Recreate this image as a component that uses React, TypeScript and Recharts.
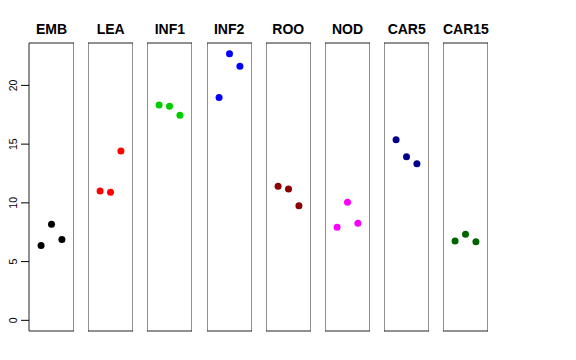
import React from "react";
import { ScatterChart, Scatter, XAxis, YAxis, ReferenceArea } from "recharts";

const categories = ["EMB", "LEA", "INF1", "INF2", "ROO", "NOD", "CAR5", "CAR15"];
const colors = ["#000000", "#FF0000", "#00CD00", "#0000FF", "#8B0000", "#FF00FF", "#00008B", "#006400"];
const replicates = [1, 2, 3];

const EMB = [6.38, 8.18, 6.88];
const LEA = [11.02, 10.91, 14.41];
const INF1 = [18.33, 18.22, 17.45];
const INF2 = [18.98, 22.7, 21.63];
const ROO = [11.42, 11.19, 9.75];
const NOD = [7.93, 10.06, 8.27];
const CAR5 = [15.37, 13.92, 13.32];
const CAR15 = [6.76, 7.33, 6.68];

const seriesValues = [EMB, LEA, INF1, INF2, ROO, NOD, CAR5, CAR15];
const yTicks = [0, 5, 10, 15, 20];

const Y_DOMAIN: [number, number] = [-0.908, 23.61];
const X_DOMAIN: [number, number] = [-0.16, 4.16];

const PANEL_LEFT = 29;
const PANEL_STEP = 59.2;
const PANEL_W = 45;
const TOP = 43;
const BOTTOM = 29;
const H = 360;

function YTick(props: any) {
  const { x, y, payload } = props;
  return (
    <text
      x={x}
      y={y}
      transform={`rotate(-90, ${x}, ${y})`}
      textAnchor="middle"
      fontSize={10.5}
      fill="#000"
      fontFamily="Liberation Sans, Arial, sans-serif"
    >
      {payload.value}
    </text>
  );
}

const Dot = (color: string) => (props: any) => (
  <circle cx={props.cx} cy={props.cy} r={3.5} fill={color} />
);

function Panel({ idx }: { idx: number }) {
  const first = idx === 0;
  const data = replicates.map((r, i) => ({ x: r, y: seriesValues[idx][i] }));
  const left = PANEL_LEFT + idx * PANEL_STEP;
  const width = first ? PANEL_W + PANEL_LEFT : PANEL_W;
  return (
    <div style={{ position: "absolute", left: first ? 0 : left, top: 0 }}>
      <ScatterChart
        width={width}
        height={H}
        margin={{ top: TOP, bottom: BOTTOM, left: 0, right: 0 }}
      >
        <XAxis type="number" dataKey="x" domain={X_DOMAIN} hide />
        <YAxis
          type="number"
          dataKey="y"
          domain={Y_DOMAIN}
          ticks={yTicks}
          hide={!first}
          width={PANEL_LEFT}
          axisLine={false}
          tickSize={8}
          tickLine={{ stroke: "#000" }}
          tick={<YTick />}
          tickMargin={4}
          allowDataOverflow
        />
        <ReferenceArea
          x1={X_DOMAIN[0]}
          x2={X_DOMAIN[1]}
          y1={Y_DOMAIN[0]}
          y2={Y_DOMAIN[1]}
          fill="none"
          stroke="#222"
          strokeWidth={1}
          ifOverflow="visible"
        />
        <Scatter data={data} shape={Dot(colors[idx])} isAnimationActive={false} />
      </ScatterChart>
      <div
        style={{
          position: "absolute",
          top: 21,
          left: first ? PANEL_LEFT : 0,
          width: PANEL_W,
          fontFamily: "Liberation Sans, Arial, sans-serif",
          fontWeight: "bold",
          fontSize: 14,
          whiteSpace: "nowrap",
          display: "flex",
          justifyContent: "center",
        }}
      >
        {categories[idx]}
      </div>
    </div>
  );
}

export default function App() {
  return (
    <div
      style={{
        position: "absolute",
        left: 0,
        top: 0,
        width: 576,
        height: 360,
        background: "#fff",
        overflow: "hidden",
      }}
    >
      {categories.map((c, i) => (
        <Panel key={c} idx={i} />
      ))}
    </div>
  );
}
